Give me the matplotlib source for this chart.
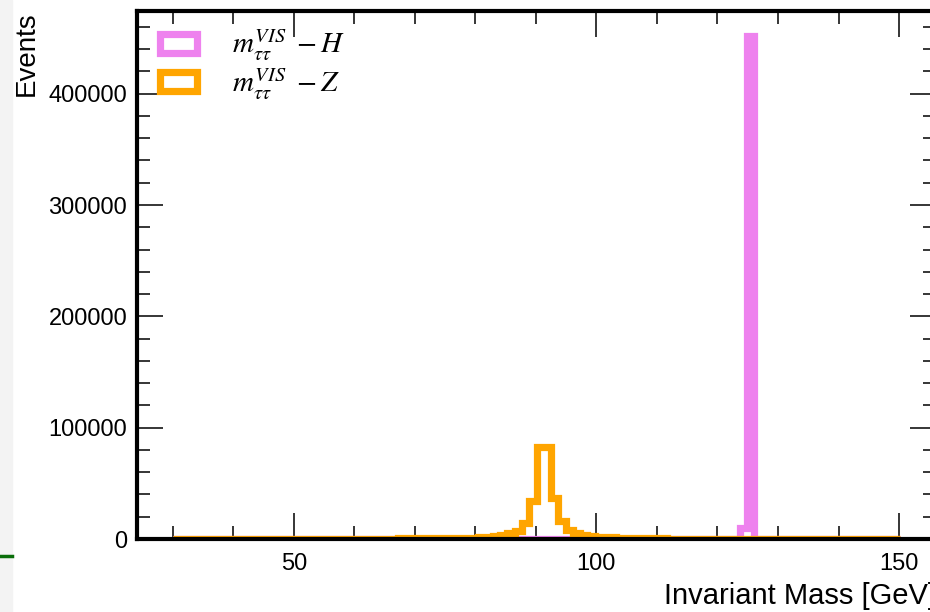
# -*- coding: utf-8 -*-
"""
Visible di-tau mass for H and Z samples
"""

import numpy as np
import matplotlib
matplotlib.use("Agg")
import matplotlib.pyplot as plt
from matplotlib.ticker import MultipleLocator
from matplotlib.lines import Line2D
from matplotlib.patches import Rectangle

# binning of the histograms (100 bins of 1.2 GeV)
bin_lo = 30.1
bin_hi = 150.1
n_bins = 100

# bin contents
z_counts = [
    90, 95, 100, 105, 110, 115, 120, 125, 130, 140,
    145, 150, 160, 170, 175, 185, 195, 205, 215, 230,
    240, 255, 270, 285, 300, 320, 340, 360, 385, 410,
    440, 470, 505, 545, 590, 640, 700, 770, 850, 950,
    1070, 1220, 1600, 2000, 2600, 3500, 5000, 7500, 14300, 33800,
    82500, 82200, 36800, 15900, 8300, 5400, 3900, 2800, 2100, 1650,
    1350, 1100, 920, 780, 670, 580, 510, 450, 400, 360,
    325, 295, 270, 250, 230, 215, 200, 190, 180, 170,
    160, 152, 145, 138, 132, 126, 120, 115, 110, 105,
    100, 96, 92, 88, 85, 82, 79, 76, 73, 70,
]
h_counts = [0] * n_bins
h_counts[78] = 9500
h_counts[79] = 451700

labels = [r"$m_{\tau\tau}^{VIS}\ - H$", r"$m_{\tau\tau}^{VIS}\ - Z$"]
colors = ["violet", "orange"]

plt.rcParams['font.family'] = ['Liberation Sans', 'DejaVu Sans']
plt.rcParams['mathtext.fontset'] = 'stix'

edges = np.linspace(bin_lo, bin_hi, n_bins + 1)
centers = 0.5 * (edges[1:] + edges[:-1])

fig = plt.figure(figsize=(9.3, 6.12), dpi=100)
ax = fig.add_axes([137 / 930, 1 - 539 / 612, (936 - 137) / 930, (539 - 11) / 612])

# screenshot leftovers at the left border
fig.add_artist(Rectangle((0, 0), 12 / 930, 1, transform=fig.transFigure,
                         color="#f3f3f3", zorder=-5))
fig.add_artist(Line2D([0, 12 / 930], [1 - 556 / 612] * 2, transform=fig.transFigure,
                      color="#0a6e0a", linewidth=2.5))

for counts, lab, col in zip([h_counts, z_counts], labels, colors):
    ax.hist(centers, bins=edges, weights=counts, histtype="step",
            color=col, linewidth=5.2, label=lab)

# ticks in the HEP style
ax.xaxis.set_major_locator(MultipleLocator(50))
ax.xaxis.set_minor_locator(MultipleLocator(10))
ax.yaxis.set_major_locator(MultipleLocator(100000))
ax.yaxis.set_minor_locator(MultipleLocator(20000))
ax.tick_params(which="both", direction="in", top=True, right=True, labelsize=17)
ax.tick_params(which="major", length=19, width=1.1)
ax.tick_params(which="minor", length=9.5, width=1.1)
ax.tick_params(axis="x", pad=10)
ax.tick_params(axis="y", pad=7)
for sp in ax.spines.values():
    sp.set_linewidth(3)

ax.set_xlabel("Invariant Mass [GeV]", loc="right", fontsize=21, labelpad=5)
ax.set_ylabel("Events", loc="top", fontsize=20, labelpad=6)

ax.legend(loc="upper left", frameon=False, fontsize=21, handlelength=1.25,
          handleheight=0.62, labelspacing=0.1, handletextpad=1.2,
          borderpad=0, borderaxespad=0, bbox_to_anchor=(0.029, 0.968))

fig.savefig("out.png", dpi=100)
